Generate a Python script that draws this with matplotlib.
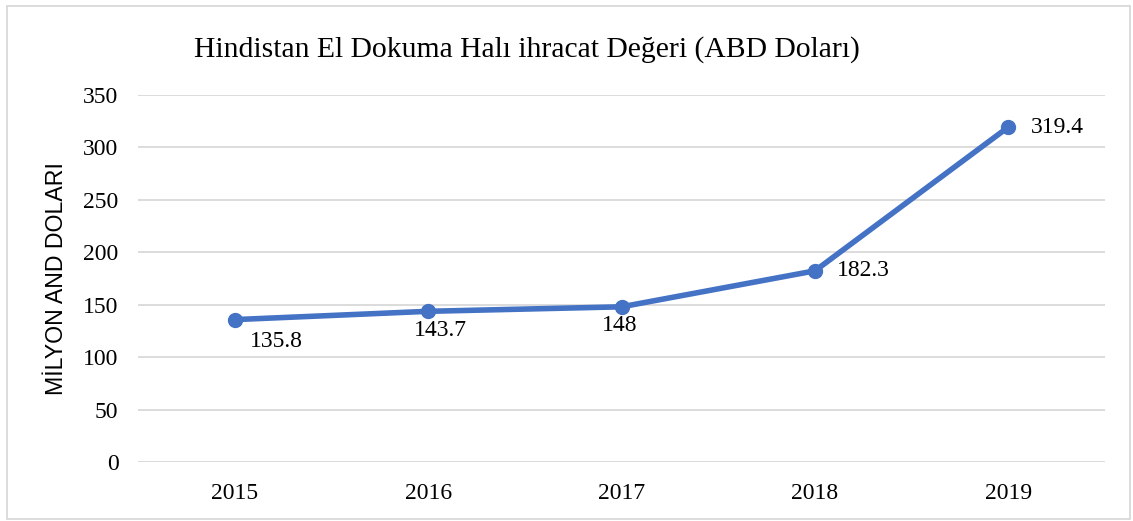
import matplotlib.pyplot as plt
from matplotlib.patches import Rectangle

years = ["2015", "2016", "2017", "2018", "2019"]
values = [135.8, 143.7, 148, 182.3, 319.4]
value_labels = ["135.8", "143.7", "148", "182.3", "319.4"]
yticks = [0, 50, 100, 150, 200, 250, 300, 350]

# label offsets (points) and alignment, as in the original
label_pos = [
    ((30, -8), "center", "top"),
    ((9, -6), "center", "top"),
    ((-1.5, -6), "center", "top"),
    ((16, 0), "left", "center"),
    ((16, 0), "left", "center"),
]

serif = "Liberation Serif"
line_col = "#4472C4"
grid_col = "#D9D9D9"

fig = plt.figure(figsize=(11.33, 5.21), dpi=100)
ax = fig.add_axes([0.1218, 0.1132, 0.8535, 0.7045])

x = list(range(len(years)))
ax.plot(x, values, color=line_col, lw=4.0, marker="o", ms=10, zorder=3,
        solid_capstyle="round")

for xi, v, lab, (off, ha, va) in zip(x, values, value_labels, label_pos):
    ax.annotate(lab, (xi, v), xytext=off, textcoords="offset points",
                ha=ha, va=va, fontsize=17, family=serif, color="black")

ax.set_xlim(-0.5, len(years) - 0.5)
ax.set_ylim(0, 350)
ax.set_yticks(yticks)
ax.set_xticks(x)
ax.set_xticklabels(years)
ax.tick_params(length=0, labelsize=17, pad=14)
for t in ax.get_xticklabels() + ax.get_yticklabels():
    t.set_family(serif)
ax.tick_params(axis="x", pad=15)
ax.grid(axis="y", color=grid_col, lw=1.3)
ax.set_axisbelow(True)
for s in ax.spines.values():
    s.set_visible(False)

ax.set_ylabel("MİLYON AND DOLARI", family="Liberation Sans", fontsize=16.7,
              labelpad=11)

fig.text(0.465, 0.905, "Hindistan El Dokuma Halı ihracat Değeri (ABD Doları)",
         ha="center", va="center", fontsize=21.3, family=serif)

fig.patches.append(Rectangle((0.006, 0.004), 0.991, 0.984, transform=fig.transFigure,
                             fill=False, ec="#D9D9D9", lw=1.3))

fig.savefig("out.png", dpi=100)
